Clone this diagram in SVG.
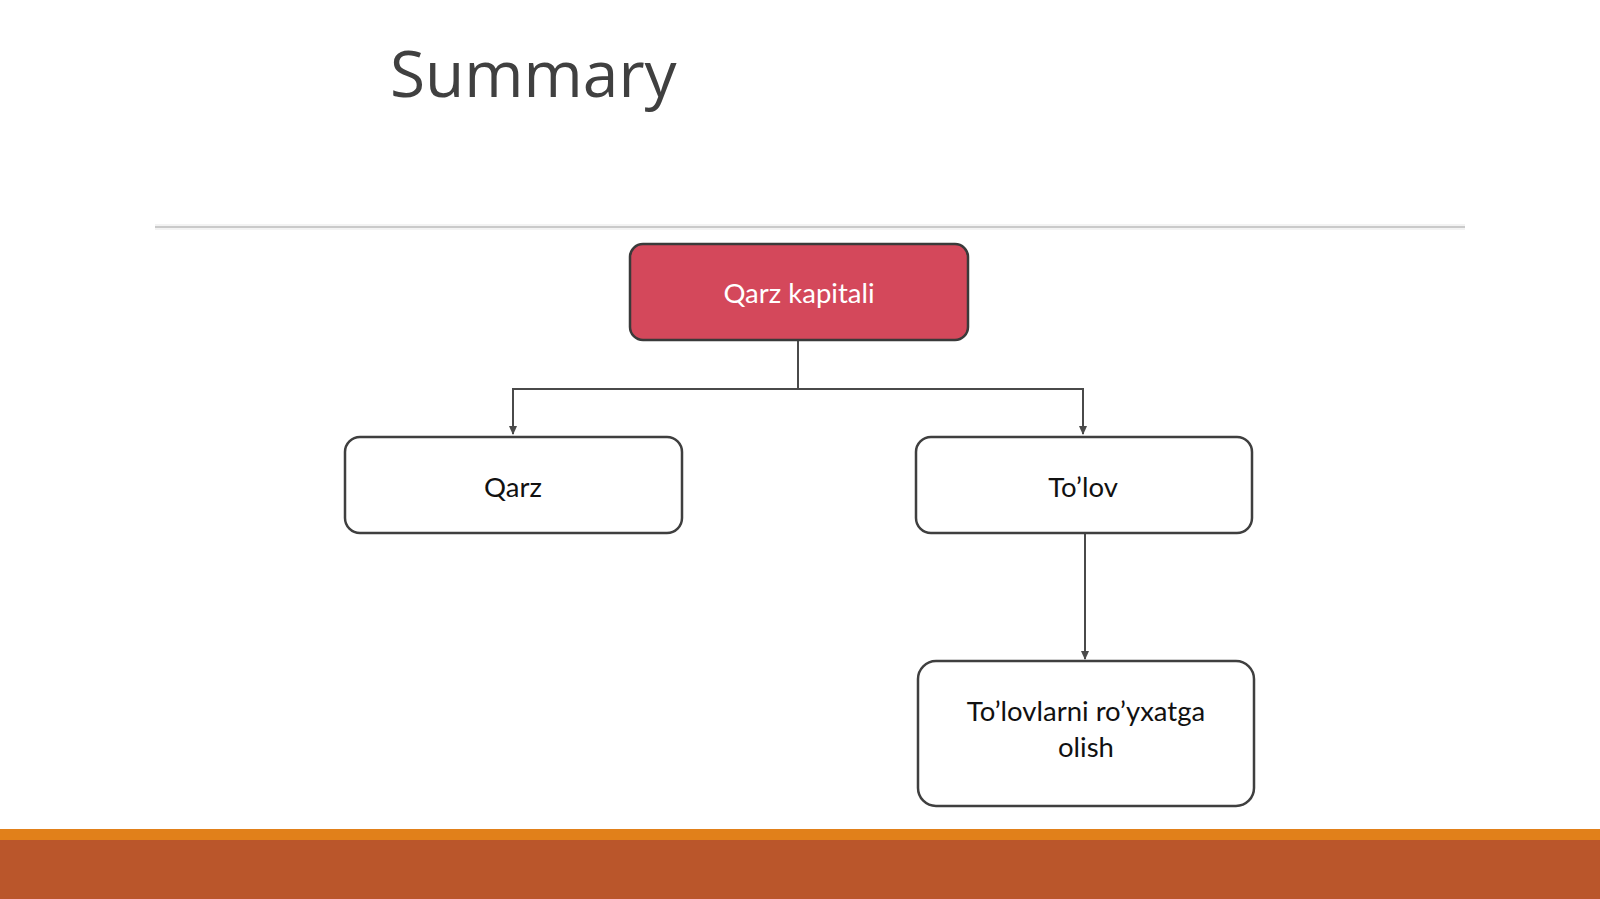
<svg xmlns="http://www.w3.org/2000/svg" width="1600" height="899" viewBox="0 0 1600 899">
<style>
.box{fill:#ffffff;stroke:#3f3f3f;stroke-width:2.5}
.lbl{font-family:Lato,"Liberation Sans",sans-serif;font-size:27.5px;fill:#111;text-anchor:middle}
.con{fill:none;stroke:#4a4a4a;stroke-width:2}
</style>
<defs>
<marker id="ah" markerWidth="10" markerHeight="10" refX="8" refY="5" orient="auto" markerUnits="userSpaceOnUse">
<path d="M0,1 L9,5 L0,9 Z" fill="#4a4a4a"/>
</marker>
</defs>
<rect width="1600" height="899" fill="#ffffff"/>
<text x="390" y="97" font-family="'Open Sans','Liberation Sans',sans-serif" font-size="64" fill="#404040">Summary</text>
<rect x="155" y="224" width="1310" height="6" fill="#f3f3f3"/>
<line x1="155" y1="227" x2="1465" y2="227" stroke="#bdbdbd" stroke-width="1.5"/>
<g id="connectors">
<path class="con" d="M798,340 V389 H513 V434" marker-end="url(#ah)"/>
<path class="con" d="M798,389 H1083 V434" marker-end="url(#ah)"/>
<path class="con" d="M1085,533 V659" marker-end="url(#ah)"/>
</g>
<g id="node-qarz-kapitali">
<rect x="630" y="244" width="338" height="96" rx="13" fill="#d4485b" stroke="#3a3a3a" stroke-width="2.5"/>
<text class="lbl" x="799" y="303" style="fill:#ffffff">Qarz kapitali</text>
</g>
<g id="node-qarz">
<rect class="box" x="345" y="437" width="337" height="96" rx="15"/>
<text class="lbl" x="513" y="497">Qarz</text>
</g>
<g id="node-tolov">
<rect class="box" x="916" y="437" width="336" height="96" rx="15"/>
<text class="lbl" x="1083" y="497">To’lov</text>
</g>
<g id="node-royxat">
<rect class="box" x="918" y="661" width="336" height="145" rx="18"/>
<text class="lbl" x="1086" y="721">To’lovlarni ro’yxatga</text>
<text class="lbl" x="1086" y="757">olish</text>
</g>
<rect x="0" y="829" width="1600" height="70" fill="#ba562b"/>
<rect x="0" y="829" width="1600" height="11" fill="#e1801a"/>
</svg>
